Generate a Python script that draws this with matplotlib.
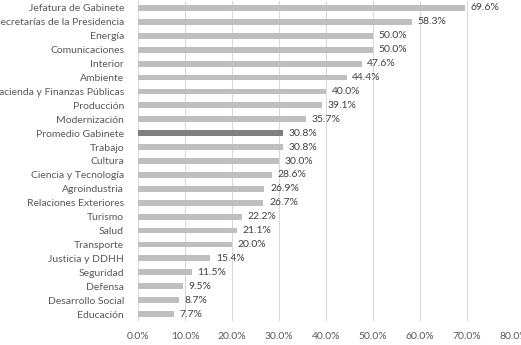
import matplotlib
matplotlib.use("Agg")
import matplotlib.pyplot as plt
from matplotlib.ticker import FuncFormatter

categories = ["Jefatura de Gabinete", "Secretarías de la Presidencia", "Energía",
              "Comunicaciones", "Interior", "Ambiente", "Hacienda y Finanzas Públicas",
              "Producción", "Modernización", "Promedio Gabinete", "Trabajo", "Cultura",
              "Ciencia y Tecnología", "Agroindustria", "Relaciones Exteriores", "Turismo",
              "Salud", "Transporte", "Justicia y DDHH", "Seguridad", "Defensa",
              "Desarrollo Social", "Educación"]
values = [69.6, 58.3, 50.0, 50.0, 47.6, 44.4, 40.0, 39.1, 35.7, 30.8, 30.8, 30.0,
          28.6, 26.9, 26.7, 22.2, 21.1, 20.0, 15.4, 11.5, 9.5, 8.7, 7.7]
highlight = "Promedio Gabinete"
xticks = [0, 10, 20, 30, 40, 50, 60, 70, 80]

plt.rcParams['font.family'] = ['Lato', 'DejaVu Sans']

fig = plt.figure(figsize=(5.21, 3.45), dpi=100)
ax = fig.add_axes([138/521, 1 - 321/345, 376/521, 320/345])

n = len(categories)
ypos = list(range(n))
colors = ["#7f7f7f" if c == highlight else "#bfbfbf" for c in categories]
ax.barh(ypos, values, height=0.42, color=colors, zorder=2)
for y, v in zip(ypos, values):
    ax.annotate(f"{v:.1f}%", (v, y), xytext=(4, 0), textcoords="offset points",
                va="center", ha="left", fontsize=7.5, color="#404040")

ax.set_yticks(ypos)
ax.set_yticklabels(categories, fontsize=7.5, color="#595959")
ax.set_ylim(n - 0.5, -0.5)
ax.set_xlim(0, 80)
ax.set_xticks(xticks)
ax.xaxis.set_major_formatter(FuncFormatter(lambda x, p: f"{x:.1f}%"))
ax.tick_params(axis='x', labelsize=7.5, colors="#595959", length=0, pad=8)
ax.tick_params(axis='y', length=0, pad=10)
ax.grid(axis='x', color="#d9d9d9", linewidth=0.8, zorder=0)
for s in ax.spines.values():
    s.set_visible(False)

fig.savefig("out.png", dpi=100)
